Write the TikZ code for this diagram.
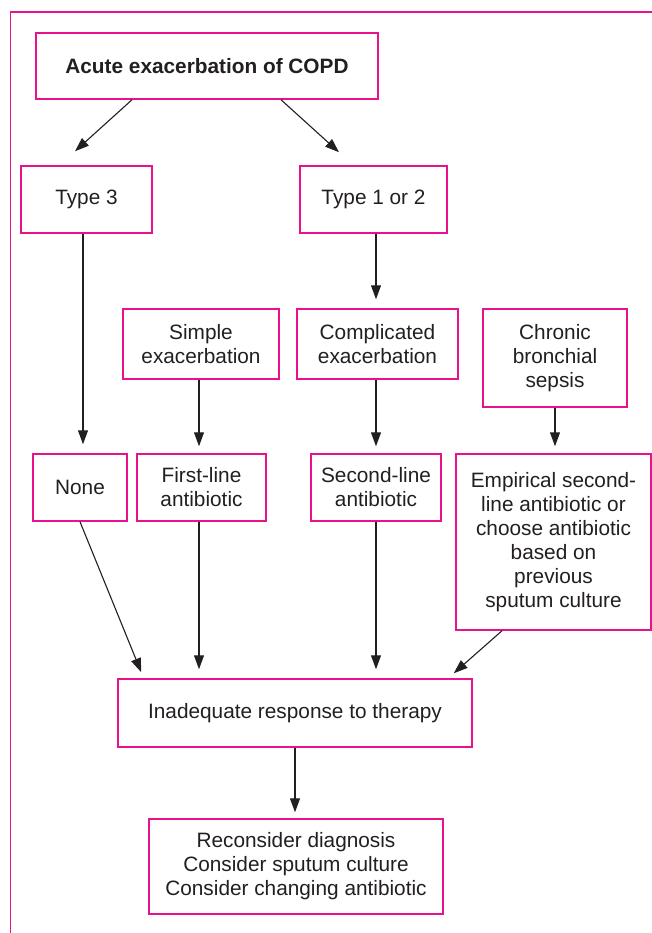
\documentclass[tikz,border=0pt]{standalone}
\usepackage{fontspec}
\setmainfont{Liberation Sans}
\usetikzlibrary{arrows.meta,positioning,calc}
\definecolor{cadreC}{RGB}{232,18,140}
\definecolor{texteC}{RGB}{35,31,32}
\tikzset{
  box/.style={rectangle, draw=cadreC, line width=1.5pt, fill=white, align=center,
              inner sep=0pt, text=texteC, font=\fontsize{20.8}{24}\selectfont},
  arr/.style={-{Triangle[length=14pt,width=10pt]}, line width=1.1pt, draw=texteC},
}
\begin{document}
\begin{tikzpicture}[x=1pt,y=-1pt]
  \useasboundingbox (0,0) rectangle (652,933);
  \draw[cadreC, line width=1.8pt] (652,12) -- (10.5,12) -- (10.5,933);
  % boxes
  \node[box, minimum width=342pt, minimum height=66pt] (copd) at (207,66) {\textbf{Acute exacerbation of COPD}};
  \node[box, minimum width=131pt, minimum height=67pt] (t3) at (86.5,199.5) {Type 3};
  \node[box, minimum width=147pt, minimum height=67pt] (t12) at (373.5,199.5) {Type 1 or 2};
  \node[box, minimum width=156pt, minimum height=70pt] (simple) at (201,344) {Simple\\exacerbation};
  \node[box, minimum width=161pt, minimum height=70pt] (compl) at (377.5,344) {Complicated\\exacerbation};
  \node[box, minimum width=144pt, minimum height=98pt] (chron) at (555,358) {Chronic\\bronchial\\sepsis};
  \node[box, minimum width=94pt, minimum height=67pt] (none) at (80,487.5) {None};
  \node[box, minimum width=129pt, minimum height=67pt] (first) at (201.5,487.5) {First-line\\antibiotic};
  \node[box, minimum width=130pt, minimum height=67pt] (second) at (376,487.5) {Second-line\\antibiotic};
  \node[box, minimum width=195pt, minimum height=176pt] (empir) at (553.5,542)
    {Empirical second-\\line antibiotic or\\choose antibiotic\\based on\\previous\\sputum culture};
  \node[box, minimum width=354pt, minimum height=68pt] (inad) at (295,713) {Inadequate response to therapy};
  \node[box, minimum width=294pt, minimum height=95pt] (recon) at (296,866.5)
    {Reconsider diagnosis\\Consider sputum culture\\Consider changing antibiotic};
  % arrows
  \draw[arr] ($(copd.south)+(-75,0)$) -- ($(t3.north)+(-11.5,-14)$);
  \draw[arr] ($(copd.south)+(74,0)$) -- ($(t12.north)+(-34.5,-13)$);
  \draw[arr] ($(t3.south)+(-3.5,0)$) -- ($(t3.south |- none.north)+(-3.5,-9)$);
  \draw[arr] ($(t12.south)+(2.5,0)$) -- ($(t12.south |- compl.north)+(2.5,-9)$);
  \draw[arr] ($(simple.south)+(-2,0)$) -- ($(simple.south |- first.north)+(-2,-7)$);
  \draw[arr] (second.north |- compl.south) -- ($(second.north)+(0,-7)$);
  \draw[arr] (chron.south) -- ($(chron.south |- empir.north)+(0,-7)$);
  \draw[arr] (none.south) -- ($(inad.north west)+(24,-6)$);
  \draw[arr] ($(first.south)+(-2.5,0)$) -- ($(first.south |- inad.north)+(-2.5,-9)$);
  \draw[arr] (second.south) -- ($(second.south |- inad.north)+(0,-9)$);
  \draw[arr] ($(empir.south)+(-51.5,0)$) -- ($(inad.north east)+(-19,-5)$);
  \draw[arr] (inad.south) -- ($(inad.south |- recon.north)+(0,-6)$);
\end{tikzpicture}
\end{document}
